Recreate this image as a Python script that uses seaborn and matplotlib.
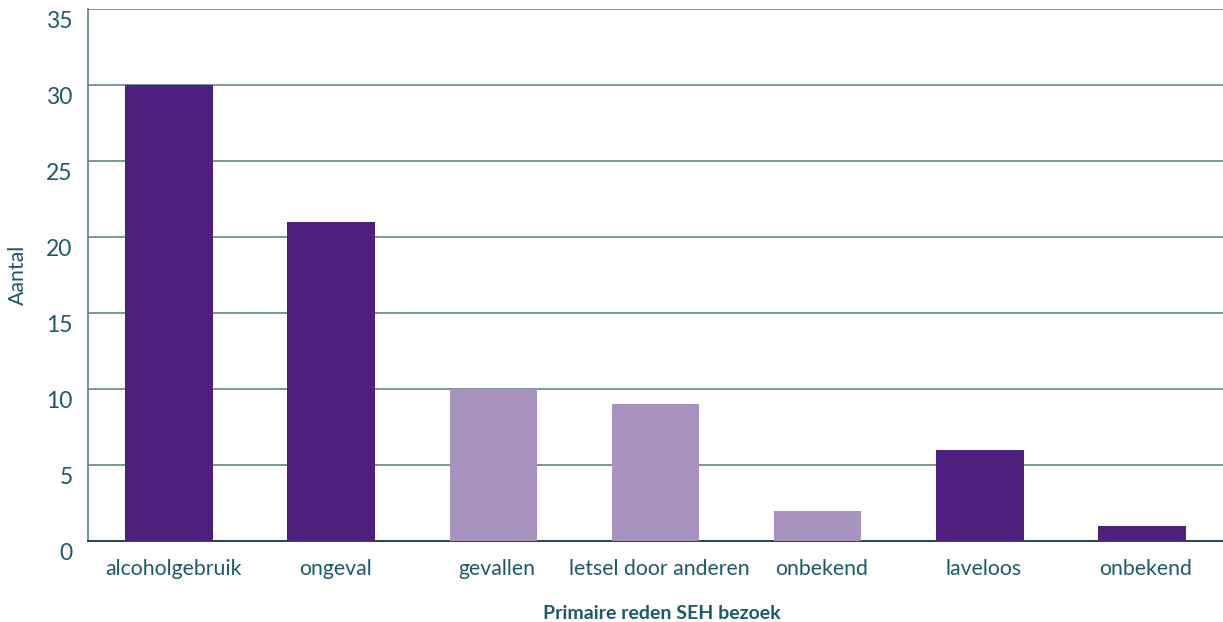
import matplotlib
matplotlib.use('Agg')
import matplotlib.pyplot as plt
import matplotlib.transforms as mtransforms
import numpy as np
import pandas as pd
import seaborn as sns

# data
categories = ['alcoholgebruik', 'ongeval', 'gevallen', 'letsel door anderen',
              'onbekend', 'laveloos', 'onbekend']
values = [30, 21, 10, 9, 2, 6, 1]
groups = ['donker', 'donker', 'licht', 'licht', 'licht', 'donker', 'donker']
y_ticks = [0, 5, 10, 15, 20, 25, 30, 35]

dark = '#4f1f7f'
light = '#a893c0'
text_col = '#1b5a66'
grid_col = '#5f858c'

sns.set_style('white')
plt.rcParams['font.family'] = ['Lato', 'DejaVu Sans']

df = pd.DataFrame({'pos': [str(i) for i in range(len(values))],
                   'waarde': values, 'groep': groups})

fig = plt.figure(figsize=(12.23, 6.22), dpi=100)
ax = fig.add_axes([88 / 1223, 81 / 622, 1 - 88 / 1223, (541 - 9) / 622])

sns.barplot(data=df, x='pos', y='waarde', hue='groep',
            palette={'donker': dark, 'licht': light}, width=0.54,
            saturation=1, linewidth=0, dodge=False, legend=False,
            ax=ax, zorder=3)

ax.set_ylim(0, 35)
ax.set_xlim(-0.5, len(values) - 0.5)
ax.set_yticks(y_ticks)
ax.yaxis.grid(True, color=grid_col, linewidth=1.2, zorder=0)
ax.set_axisbelow(True)

# tick marks between categories, labels at centers
ax.set_xticks(np.arange(len(values) + 1) - 0.5)
ax.set_xticklabels([])
ax.set_xticks(np.arange(len(values)), minor=True)
ax.set_xticklabels(categories, minor=True)
ax.tick_params(axis='x', which='major', length=14, width=1.2, color='#6f959c',
               direction='out')
ax.tick_params(axis='x', which='minor', length=0, pad=13, labelsize=15.3,
               labelcolor=text_col)
ax.tick_params(axis='y', length=0, pad=11, labelsize=16.5, labelcolor=text_col)

# y labels sit a little below their gridline, x labels a bit to the right
shift_y = mtransforms.ScaledTranslation(0, -0.11, fig.dpi_scale_trans)
for lab in ax.get_yticklabels():
    lab.set_transform(lab.get_transform() + shift_y)
shift_x = mtransforms.ScaledTranslation(0.04, 0, fig.dpi_scale_trans)
for lab in ax.get_xticklabels(minor=True):
    lab.set_transform(lab.get_transform() + shift_x)

for s in ['top', 'right']:
    ax.spines[s].set_visible(False)
ax.spines['left'].set_color('#5a7f87')
ax.spines['left'].set_linewidth(1.2)
ax.spines['bottom'].set_color('#1c4a55')
ax.spines['bottom'].set_linewidth(1.4)

ax.set_xlabel('Primaire reden SEH bezoek', fontsize=14, fontweight='bold',
              color=text_col)
ax.set_ylabel('Aantal', fontsize=15.3, color=text_col)
ax.xaxis.set_label_coords(0.506, -0.121)
ax.yaxis.set_label_coords(-0.053, 0.5)

fig.savefig('out.png', dpi=100)
